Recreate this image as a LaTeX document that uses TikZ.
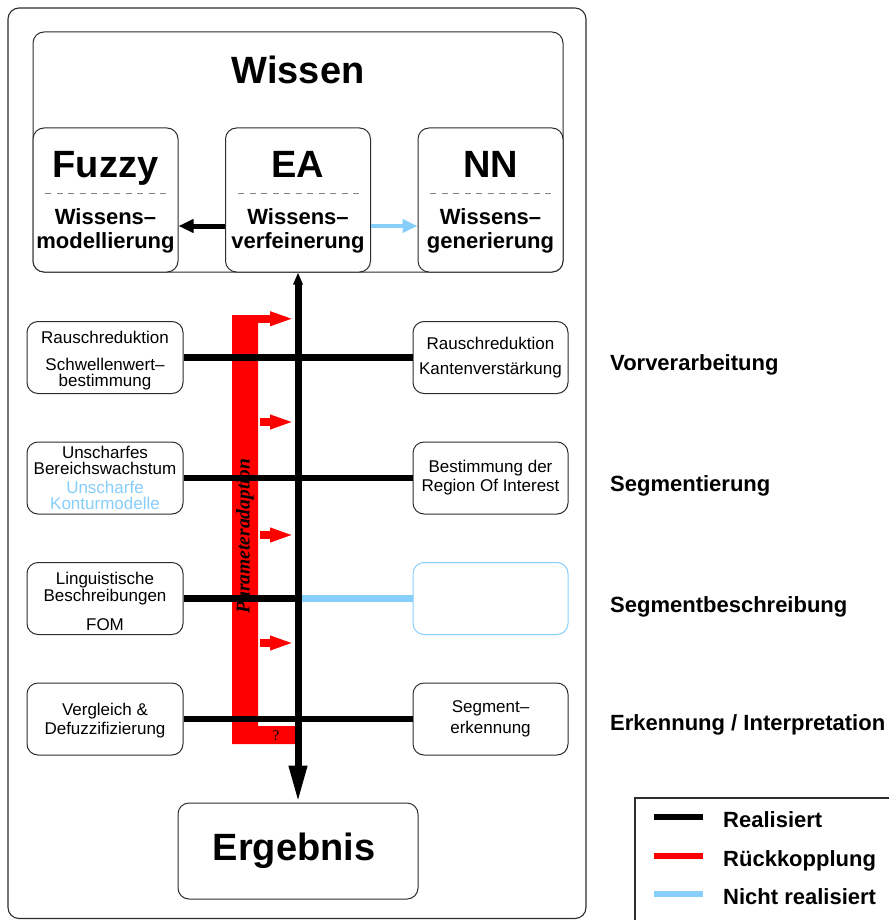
\documentclass[tikz,border=0pt]{standalone}
\usepackage{fontspec}
\setmainfont{Liberation Sans}
\newfontfamily\timesfont{Liberation Serif}
\usetikzlibrary{arrows.meta}
\definecolor{skyline}{RGB}{135,206,250}
\definecolor{framegray}{RGB}{45,45,45}

\begin{document}
\begin{tikzpicture}[x=1pt,y=-1pt,
  box/.style={draw=framegray, line width=1pt, rounded corners=11pt, fill=white,
              inner sep=0pt, align=center},
  knowbox/.style={box, minimum width=145pt, minimum height=144pt},
  rowbox/.style={box, minimum width=156pt, minimum height=72pt,
                 font=\fontsize{17}{15.5}\selectfont},
  bigtext/.style={font=\fontsize{38}{40}\selectfont\bfseries, inner sep=0pt},
  subtext/.style={font=\fontsize{22}{24}\selectfont\bfseries, inner sep=0pt, align=center},
  lbltext/.style={font=\fontsize{22}{24}\selectfont\bfseries, inner sep=0pt, anchor=base west},
  sep/.style={draw=gray, line width=0.8pt, dash pattern=on 6pt off 5.5pt},
  realline/.style={draw=black, line width=6.5pt},
  openline/.style={draw=skyline, line width=6.5pt},
  fbarrow/.style={draw=red, line width=8pt, -{Triangle[length=24pt,width=13pt]}},
]
\useasboundingbox (0,0) rectangle (889,920);

% outer frame
\draw[framegray, line width=1.1pt, rounded corners=11pt] (8,8) rectangle (586,918.5);

% knowledge block
\node[box, minimum width=530pt, minimum height=240pt] (wissen) at (298,152) {};
\node[bigtext, anchor=base] (wissenT) at (298,84) {Wissen};

\node[knowbox] (fuzzy) at (105.5,200) {};
\node[knowbox] (ea)    at (298,200)   {};
\node[knowbox] (nn)    at (490.5,200) {};

\node[bigtext, anchor=base] (fuzzyT) at (105.5,178) {Fuzzy};
\node[bigtext, anchor=base] (eaT)    at (298,178)   {EA};
\node[bigtext, anchor=base] (nnT)    at (490.5,178) {NN};

\draw[sep] (45,193) -- (168,193);
\draw[sep] (238,193) -- (361,193);
\draw[sep] (430,193) -- (553,193);

\node[subtext] (fuzzyS) at (105.5,231) {Wissens–\\modellierung};
\node[subtext] (eaS)    at (298,231)   {Wissens–\\verfeinerung};
\node[subtext] (nnS)    at (490.5,231) {Wissens–\\generierung};

\draw[draw=black, line width=5pt, -{Triangle[length=15pt,width=13pt]}]
  ([yshift=-26pt]ea.west) -- ([yshift=-26pt]fuzzy.east);
\draw[draw=skyline, line width=4.5pt, -{Triangle[length=15pt,width=13pt]}]
  ([yshift=-26pt]ea.east) -- ([yshift=-26pt]nn.east -| nn.west);

% processing stages, left column
\node[rowbox] (l1) at (105,357.5) {\rule{0pt}{18pt}Rauschreduktion\\[12pt]Schwellenwert–\\bestimmung};
\node[rowbox] (l2) at (105,478)   {Unscharfes\\Bereichswachstum\\[4pt]\textcolor{skyline}{Unscharfe}\\\textcolor{skyline}{Konturmodelle}};
\node[rowbox] (l3) at (105,598.5) {\rule{0pt}{18pt}Linguistische\\Beschreibungen\\[13pt]FOM};
\node[rowbox] (l4) at (105,719)   {\rule{0pt}{16pt}Vergleich \&\\[2pt]Defuzzifizierung};

% processing stages, right column
\node[rowbox, minimum width=155pt] (r1) at (490.5,357.5) {Rauschreduktion\\[10pt]Kantenverstärkung};
\node[rowbox, minimum width=155pt] (r2) at (490.5,478)   {Bestimmung der\\[2pt]Region Of Interest};
\node[rowbox, minimum width=155pt, draw=skyline] (r3) at (490.5,598.5) {};
\node[rowbox, minimum width=155pt] (r4) at (490.5,719)   {Segment–\\[4pt]erkennung};

% result
\node[box, minimum width=240pt, minimum height=96pt] (ergebnis) at (298,851) {};
\node[bigtext, anchor=base] (ergebnisT) at (294,860) {Ergebnis};

% feedback bracket
\fill[red] (232,315) -- (258,315) -- (258,726) -- (296,726) -- (296,744) -- (232,744) -- cycle;
\coordinate (fs0) at (232,318.75); \coordinate (ft0) at (294,318.75);
\coordinate (fs1) at (260,422);    \coordinate (ft1) at (294,422);
\coordinate (fs2) at (260,535);    \coordinate (ft2) at (294,535);
\coordinate (fs3) at (260,643);    \coordinate (ft3) at (294,643);
\draw[fbarrow, line width=7.5pt] (fs0) -- (ft0);
\draw[fbarrow] (fs1) -- (ft1);
\draw[fbarrow] (fs2) -- (ft2);
\draw[fbarrow] (fs3) -- (ft3);
\node[font=\timesfont\bfseries\itshape\fontsize{19.5}{20}\selectfont, rotate=90, inner sep=0pt]
  (param) at (245,536) {Parameteradaption};
\node[font=\timesfont\fontsize{15}{16}\selectfont, inner sep=0pt] (fbq) at (276,736) {?};

% connections between stages
\coordinate (s3) at (l3.east -| ea.south);
\draw[realline] (l1.east) -- (r1.west);
\draw[realline] (l2.east) -- (r2.west);
\draw[openline] (s3) -- (r3.west);
\draw[realline] (l3.east) -- (s3);
\draw[realline] (l4.east) -- (r4.west);

% main flow
\draw[draw=black, line width=7pt,
      {Triangle[length=12pt,width=9pt]}-{Triangle[length=37pt,width=17pt]}]
  (ea.south) -- (ergebnis.north);

% stage names
\node[lbltext] (st1) at (610,370) {Vorverarbeitung};
\node[lbltext] (st2) at (610,491) {Segmentierung};
\node[lbltext] (st3) at (610,612) {Segmentbeschreibung};
\node[lbltext] (st4) at (610,730) {Erkennung / Interpretation};

% legend
\draw[framegray, line width=1.1pt] (889,798) -- (635,798) -- (635,920);
\draw[black, line width=6pt] (654,817) -- (703,817);
\draw[red, line width=6pt] (654,856) -- (703,856);
\draw[skyline, line width=6pt] (654,894) -- (703,894);
\node[lbltext] (lg1) at (723,827) {Realisiert};
\node[lbltext] (lg2) at (723,866) {Rückkopplung};
\node[lbltext] (lg3) at (723,904) {Nicht realisiert};
\end{tikzpicture}
\end{document}
